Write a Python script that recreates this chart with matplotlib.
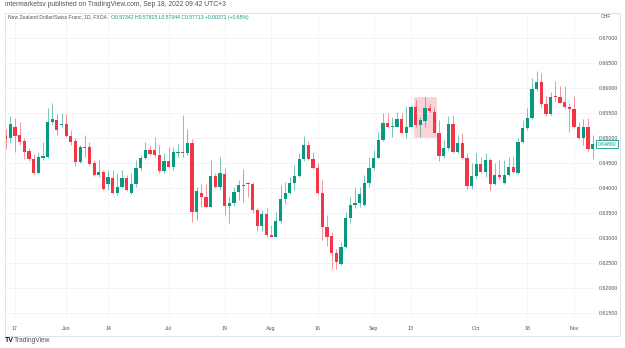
import matplotlib
matplotlib.use("Agg")
import matplotlib.pyplot as plt
from matplotlib.patches import Rectangle
import pandas as pd

plt.rcParams["font.family"] = ["Liberation Sans", "DejaVu Sans"]

# NZDCHF daily candles, 2021-05-13 .. 2021-11-05 (business days)
dates = pd.bdate_range("2021-05-13", periods=127)
opens = [
    0.65040, 0.65000, 0.65232, 0.65066, 0.64946, 0.64746, 0.64586, 0.64300, 0.64606, 0.64632,
    0.65320, 0.65372, 0.65260, 0.65292, 0.65046, 0.64946, 0.64532, 0.64812, 0.64832, 0.64500,
    0.64260, 0.64326, 0.64086, 0.64212, 0.63900, 0.64032, 0.64200, 0.63900, 0.64086, 0.64400,
    0.64606, 0.64760, 0.64766, 0.64660, 0.64340, 0.64540, 0.64432, 0.64700, 0.64726, 0.64700,
    0.64900, 0.63532, 0.63906, 0.63832, 0.63632, 0.64246, 0.64020, 0.64286, 0.63646, 0.63700,
    0.63932, 0.64046, 0.64100, 0.64086, 0.63566, 0.63246, 0.63486, 0.63072, 0.63032, 0.63346,
    0.63792, 0.63912, 0.64100, 0.64246, 0.64580, 0.64866, 0.64580, 0.64400, 0.63900, 0.63232,
    0.63046, 0.62700, 0.62486, 0.62832, 0.63400, 0.63660, 0.63700, 0.63660, 0.64112, 0.64412,
    0.64612, 0.64966, 0.65312, 0.65232, 0.65232, 0.65380, 0.65112, 0.65232, 0.65620, 0.65266,
    0.65352, 0.65600, 0.65520, 0.65112, 0.64646, 0.64800, 0.65280, 0.64732, 0.64900, 0.64600,
    0.64052, 0.64246, 0.64486, 0.64332, 0.64566, 0.64086, 0.64266, 0.64100, 0.64266, 0.64420,
    0.64300, 0.64932, 0.65200, 0.65400, 0.65980, 0.66126, 0.65686, 0.65486, 0.65846, 0.65832,
    0.65732, 0.65620, 0.65580, 0.65232, 0.65000, 0.65220, 0.64780,
]
highs = [
    0.65180, 0.65446, 0.65406, 0.65320, 0.65012, 0.64812, 0.64680, 0.64732, 0.64920, 0.65600,
    0.65706, 0.65486, 0.65500, 0.65486, 0.65166, 0.65000, 0.64866, 0.65066, 0.64932, 0.64566,
    0.64566, 0.64366, 0.64366, 0.64366, 0.64300, 0.64366, 0.64266, 0.64300, 0.64566, 0.64666,
    0.64932, 0.64866, 0.65032, 0.64866, 0.64700, 0.64820, 0.64820, 0.64886, 0.65466, 0.65186,
    0.64980, 0.64026, 0.64086, 0.64086, 0.64566, 0.64300, 0.64632, 0.64400, 0.63832, 0.64020,
    0.64166, 0.64386, 0.64132, 0.64132, 0.63600, 0.63566, 0.63600, 0.63266, 0.63532, 0.64066,
    0.64132, 0.64232, 0.64460, 0.64712, 0.65046, 0.64946, 0.64732, 0.64500, 0.64166, 0.63466,
    0.63132, 0.62780, 0.62932, 0.63532, 0.63832, 0.64020, 0.64032, 0.64266, 0.64632, 0.64766,
    0.65132, 0.65500, 0.65500, 0.65432, 0.65520, 0.65500, 0.65646, 0.65666, 0.65766, 0.65432,
    0.65832, 0.65686, 0.65632, 0.65366, 0.64966, 0.65446, 0.65466, 0.65066, 0.65100, 0.64700,
    0.64500, 0.64712, 0.64620, 0.64712, 0.64600, 0.64500, 0.64566, 0.64566, 0.64632, 0.64632,
    0.65000, 0.65366, 0.65600, 0.66200, 0.66352, 0.66312, 0.65846, 0.65932, 0.66152, 0.66046,
    0.66046, 0.65700, 0.65846, 0.65326, 0.65380, 0.65400, 0.65066,
]
lows = [
    0.64780, 0.64900, 0.64732, 0.64866, 0.64592, 0.64552, 0.64286, 0.64286, 0.64566, 0.64612,
    0.65266, 0.65066, 0.65220, 0.65032, 0.64866, 0.64446, 0.64512, 0.64632, 0.64466, 0.64246,
    0.64220, 0.63966, 0.63966, 0.63880, 0.63866, 0.64000, 0.63952, 0.63886, 0.64032, 0.64366,
    0.64580, 0.64666, 0.64632, 0.64312, 0.64312, 0.64420, 0.64366, 0.64632, 0.64632, 0.64666,
    0.63332, 0.63366, 0.63632, 0.63620, 0.63632, 0.64000, 0.63966, 0.63466, 0.63312, 0.63646,
    0.63766, 0.63732, 0.63832, 0.63500, 0.63152, 0.63152, 0.63032, 0.63020, 0.63032, 0.63312,
    0.63686, 0.63886, 0.63966, 0.64232, 0.64552, 0.64566, 0.64386, 0.63886, 0.62966, 0.62846,
    0.62380, 0.62380, 0.62466, 0.62800, 0.63312, 0.63600, 0.63620, 0.63646, 0.64020, 0.64366,
    0.64600, 0.64946, 0.65220, 0.65032, 0.65220, 0.65100, 0.65000, 0.65220, 0.65232, 0.65032,
    0.65232, 0.65500, 0.65100, 0.64552, 0.64600, 0.64766, 0.64700, 0.64700, 0.64580, 0.63986,
    0.63986, 0.64200, 0.64300, 0.64232, 0.63952, 0.64066, 0.64180, 0.64086, 0.64246, 0.64312,
    0.64286, 0.64900, 0.65166, 0.65380, 0.65952, 0.65632, 0.65446, 0.65466, 0.65732, 0.65700,
    0.65580, 0.65132, 0.65200, 0.64986, 0.64866, 0.64752, 0.64592,
]
closes = [
    0.64992, 0.65292, 0.65052, 0.64932, 0.64732, 0.64580, 0.64300, 0.64620, 0.64646, 0.65326,
    0.65380, 0.65166, 0.65292, 0.65046, 0.64932, 0.64532, 0.64820, 0.64832, 0.64492, 0.64260,
    0.64326, 0.63980, 0.64220, 0.63900, 0.64032, 0.64200, 0.63966, 0.64086, 0.64400, 0.64606,
    0.64766, 0.64686, 0.64660, 0.64340, 0.64540, 0.64432, 0.64726, 0.64726, 0.64700, 0.64900,
    0.63532, 0.63952, 0.63832, 0.63632, 0.64246, 0.64020, 0.64300, 0.63646, 0.63700, 0.63932,
    0.64066, 0.64066, 0.64086, 0.63566, 0.63246, 0.63486, 0.63060, 0.63032, 0.63346, 0.63792,
    0.63912, 0.64100, 0.64246, 0.64580, 0.64866, 0.64580, 0.64400, 0.63900, 0.63232, 0.63032,
    0.62700, 0.62532, 0.62832, 0.63400, 0.63660, 0.63700, 0.63880, 0.64112, 0.64412, 0.64612,
    0.64966, 0.65312, 0.65232, 0.65246, 0.65380, 0.65112, 0.65232, 0.65620, 0.65266, 0.65366,
    0.65600, 0.65552, 0.65112, 0.64646, 0.64800, 0.65280, 0.64732, 0.64900, 0.64600, 0.64052,
    0.64246, 0.64486, 0.64332, 0.64566, 0.64086, 0.64266, 0.64232, 0.64266, 0.64420, 0.64332,
    0.64932, 0.65200, 0.65400, 0.65980, 0.66126, 0.65686, 0.65486, 0.65832, 0.65820, 0.65712,
    0.65620, 0.65580, 0.65232, 0.65000, 0.65220, 0.64780, 0.64886,
]
xtick_dates = ["2021-05-17", "2021-06-01", "2021-06-14", "2021-07-01", "2021-07-19", "2021-08-02",
               "2021-08-16", "2021-09-01", "2021-09-13", "2021-10-01", "2021-10-18", "2021-11-01"]
xtick_labels = ["17", "Jun", "14", "Jul", "19", "Aug", "16", "Sep", "13", "Oct", "18", "Nov"]
yticks = [0.615, 0.620, 0.625, 0.630, 0.635, 0.640, 0.645, 0.650, 0.655, 0.660, 0.665, 0.670]
box_start, box_end = "2021-09-14", "2021-09-20"   # highlighted range
last_label = "0.64880"

UP, DN, GRID, TXT = "#089981", "#f23645", "#f0f3fa", "#50535e"
W, H = 625, 348
fig = plt.figure(figsize=(W / 100, H / 100), dpi=100)
ax = fig.add_axes([5 / W, 30 / H, 590 / W, 305 / H])

x = list(range(len(dates)))
cols = [UP if c >= o else DN for o, c in zip(opens, closes)]
ax.vlines(x, lows, highs, colors=cols, lw=0.7, alpha=0.55, zorder=2)
bottoms = [min(o, c) for o, c in zip(opens, closes)]
heights = [max(abs(c - o), 0.00012) for o, c in zip(opens, closes)]
ax.bar(x, heights, bottom=bottoms, width=0.7, color=cols, lw=0, zorder=3)

# highlight box
i0, i1 = dates.get_loc(pd.Timestamp(box_start)), dates.get_loc(pd.Timestamp(box_end))
lo, hi = min(lows[i0:i1 + 1]), max(highs[i0:i1 + 1])
ax.add_patch(Rectangle((i0 - 0.45, lo), i1 - i0 + 0.9, hi - lo, fc="#f9c9cf", ec="#f4a3ad",
                       lw=0.5, ls=":", alpha=0.8, zorder=1))

xt = [dates.get_loc(pd.Timestamp(d)) for d in xtick_dates]
ax.set_xticks(xt); ax.set_xticklabels(xtick_labels)
ax.set_yticks(yticks); ax.set_yticklabels([f"{v:.5f}" for v in yticks])
ax.yaxis.tick_right()
ax.tick_params(length=0, labelsize=3.8, labelcolor=TXT)
ax.tick_params(axis="x", pad=6)
ax.tick_params(axis="y", pad=2.5)
ax.grid(color=GRID, lw=0.6, zorder=0)
ax.set_xlim(-0.13, 126.5); ax.set_ylim(0.61406, 0.67506)
for s in ax.spines.values():
    s.set_visible(False)

ax.annotate(last_label, (1.004, closes[-1]), xycoords=("axes fraction", "data"), fontsize=3.7,
            color=UP, va="center", ha="left",
            bbox=dict(boxstyle="square,pad=0.3", fc="white", ec=UP, lw=0.6))

fig.add_artist(Rectangle((5 / W, 12 / H), 615 / W, 323 / H, transform=fig.transFigure,
                         fill=False, ec="#e0e3eb", lw=0.7))
fig.text(5 / W, 1 - 5 / H, "intermarketsv published on TradingView.com, Sep 18, 2022 09:42 UTC+3",
         fontsize=4.9, color=TXT, va="center")
fig.text(8 / W, 1 - 17 / H, "New Zealand Dollar/Swiss Franc, 1D, FXOA", fontsize=3.6, color=TXT, va="center")
fig.text(111 / W, 1 - 17 / H, "O0.57342 H0.57815 L0.57344 C0.57713 +0.00371 (+0.65%)",
         fontsize=3.7, color=UP, va="center")
fig.text(601 / W, 1 - 16 / H, "CHF", fontsize=3.8, color=TXT, va="center")
fig.text(5 / W, 1 - 341 / H, "TV", fontsize=5, color="#131722", weight="bold", va="center")
fig.text(14 / W, 1 - 341 / H, "TradingView", fontsize=4.8, color=TXT, va="center")

fig.savefig("out.png", dpi=100)
